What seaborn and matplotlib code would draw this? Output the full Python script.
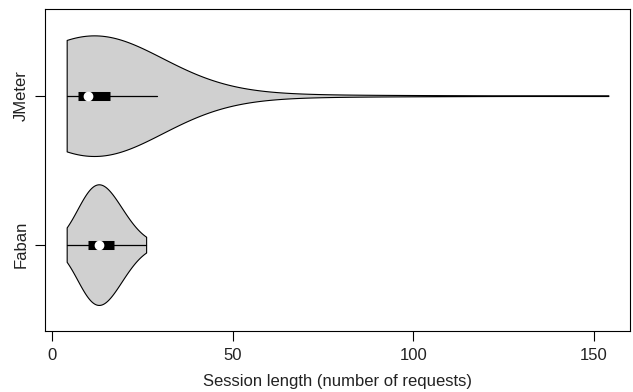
import numpy as np
import pandas as pd
import matplotlib
matplotlib.use('Agg')
import matplotlib.pyplot as plt
import matplotlib.cbook as cbook
import seaborn as sns

# session length (number of requests) -> number of sessions with that length
jmeter_len = [4, 5, 6, 7, 8, 9, 10, 11, 12, 13, 14, 15, 16,
              17, 18, 19, 20, 21, 22, 23, 24, 25, 26, 27, 28, 29,
              31, 33, 35, 38, 42, 46, 52, 60, 70, 85, 110, 154]
jmeter_cnt = [12, 14, 16, 16, 14, 14, 16, 10, 9, 8, 8, 7, 7,
              5, 5, 4, 4, 3, 3, 3, 2, 2, 2, 2, 1, 1,
              1, 1, 1, 1, 1, 1, 1, 1, 1, 1, 1, 1]

faban_len = [4, 5, 6, 7, 8, 9, 10, 11, 12, 13, 14, 15, 16, 17,
             18, 19, 20, 21, 22, 23, 24, 26]
faban_cnt = [1, 1, 2, 3, 5, 7, 8, 8, 9, 9, 8, 7, 6, 6,
             5, 4, 3, 3, 2, 1, 1, 1]

tools = ['JMeter', 'Faban']
x_ticks = [0, 50, 100, 150]

jm = np.repeat(jmeter_len, jmeter_cnt)
fb = np.repeat(faban_len, faban_cnt)
df = pd.DataFrame({
    'length': np.concatenate([jm, fb]),
    'tool': ['JMeter'] * len(jm) + ['Faban'] * len(fb),
})

sns.set_style('ticks')
plt.rcParams['font.family'] = ['Liberation Sans', 'DejaVu Sans']

fig = plt.figure(figsize=(6.33, 3.92), dpi=100)
ax = fig.add_axes([0.0711, 0.1556, 0.9242, 0.8207])

bw = {'JMeter': 3.2, 'Faban': 2.2}
for t in tools:
    sns.violinplot(data=df[df.tool == t], x='length', y='tool', order=tools,
                   orient='y', cut=0, inner=None, density_norm='width',
                   width=0.81, bw_adjust=bw[t], gridsize=200, color='#d0d0d0',
                   saturation=1, linecolor='black', linewidth=0.8, ax=ax)

for i, t in enumerate(tools):
    st = cbook.boxplot_stats(df.loc[df.tool == t, 'length'].values)[0]
    ax.plot([st['whislo'], st['whishi']], [i, i], color='black', lw=0.9, zorder=3)
    ax.plot([st['q1'], st['q3']], [i, i], color='black', lw=6.5,
            solid_capstyle='butt', zorder=4)
    ax.plot(st['med'], i, 'o', color='white', ms=6, mec='white', zorder=5)

ax.set_xlim(-2, 160)
ax.set_ylim(1.58, -0.58)
ax.set_xticks(x_ticks)
ax.set_xticklabels([str(v) for v in x_ticks])
ax.set_yticks(range(len(tools)))
ax.set_yticklabels(tools, rotation=90, va='center')
ax.set_xlabel('Session length (number of requests)', fontsize=12, color='#222222', labelpad=8)
ax.set_ylabel('')
ax.tick_params(axis='both', direction='out', length=7, width=0.8, color='black',
               labelsize=12, labelcolor='#222222', pad=5)
for s in ax.spines.values():
    s.set_visible(True)
    s.set_color('black')
    s.set_linewidth(0.8)

fig.savefig('out.png', dpi=100)
